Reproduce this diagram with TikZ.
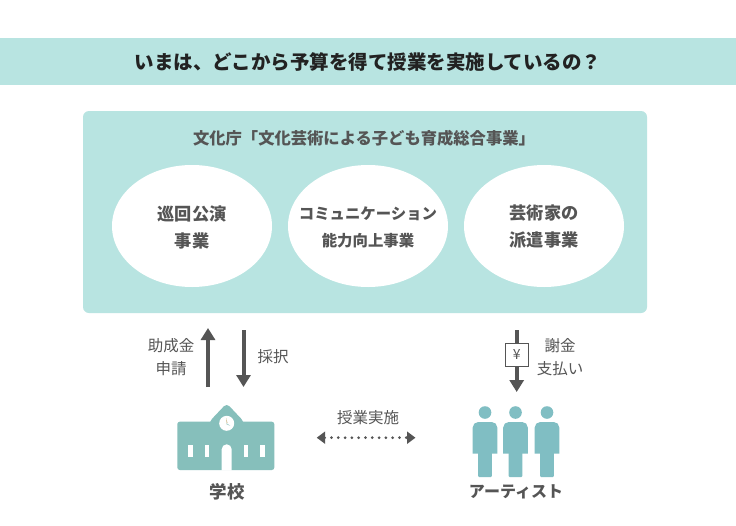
\documentclass[tikz,border=0pt]{standalone}
\usepackage{fontspec}
\setmainfont{Noto Sans CJK JP}
\usetikzlibrary{arrows.meta,shapes.geometric}
\definecolor{band}{HTML}{B8E4E1}
\definecolor{txt}{HTML}{555555}
\definecolor{darktxt}{HTML}{222222}
\definecolor{school}{HTML}{86BFBB}
\definecolor{people}{HTML}{80BEC3}
\definecolor{arr}{HTML}{555555}
\tikzset{
  titletext/.style={font=\fontsize{19.5}{22}\selectfont\bfseries, text=darktxt},
  boxtitle/.style={font=\fontsize{16.3}{19}\selectfont\bfseries, text=txt},
  elltext/.style={font=\fontsize{17.2}{27}\selectfont\bfseries, text=txt, align=center},
  elltextsmall/.style={font=\fontsize{15.4}{27}\selectfont\bfseries, text=txt, align=center},
  lbl/.style={font=\fontsize{15.5}{23}\selectfont, text=txt, align=center},
  bigl/.style={font=\fontsize{17.5}{20}\selectfont\bfseries, text=txt},
  prog/.style={ellipse, fill=white, minimum width=160pt, minimum height=122pt, inner sep=0pt},
  flow/.style={draw=arr, line width=4pt, -{Triangle[width=14pt,length=12pt]}},
  dots/.style={draw=arr, line width=3pt, line cap=round, dash pattern=on 0pt off 6.8pt,
     {Triangle[width=12pt,length=8.5pt]}-{Triangle[width=12pt,length=8.5pt]}},
}
\begin{document}
\begin{tikzpicture}[x=1pt,y=-1pt]
\useasboundingbox (0,0) rectangle (736,525);
\fill[white] (0,0) rectangle (736,525);
% top band
\fill[band] (0,38) rectangle (736,85);
\node[titletext] (title) at (368,62) {いまは、どこから予算を得て授業を実施しているの？};
% main box
\fill[band, rounded corners=6pt] (83,111) rectangle (647,313);
\node[boxtitle] (boxt) at (364,138) {文化庁「文化芸術による子ども育成総合事業」};
\node[prog] (e1) at (192,226) {};
\node[prog] (e2) at (368,226) {};
\node[prog] (e3) at (544,226) {};
\node[elltext] (t1) at (192,227) {巡回公演\\事業};
\node[elltextsmall] (t2) at (368,227) {コミュニケーション\\能力向上事業};
\node[elltext] (t3) at (544,227) {芸術家の\\派遣事業};
% arrows school
\coordinate (ua) at (208,387);
\coordinate (ub) at (208,328);
\coordinate (da) at (243.5,330);
\coordinate (db) at (243.5,387);
\draw[flow] (ua) -- (ub);
\draw[flow] (da) -- (db);
\node[lbl] (apply) at (171,357) {助成金\\申請};
\node[lbl] (adopt) at (273,357) {採択};
% arrow artist
\coordinate (ya) at (516.7,330);
\coordinate (yb) at (516.7,392);
\draw[flow] (ya) -- (yb);
\node[draw=arr, line width=0.8pt, fill=white, minimum width=23pt, minimum height=23pt, inner sep=0pt,
      font=\fontsize{14}{15}\selectfont, text=txt] (yen) at (516.7,355) {¥};
\node[lbl] (pay) at (560,357) {謝金\\支払い};
% dotted arrow
\coordinate (la) at (316.7,437.7);
\coordinate (lb) at (415.5,437.7);
\draw[dots] (la) -- (lb);
\node[lbl] (class) at (368,418) {授業実施};
% school icon
\fill[school, rounded corners=2.5pt] (177.3,421.7) rectangle (274.3,470);
\fill[school, rounded corners=4pt] (209.3,440) -- (209.3,421.7) -- (226.7,403.3) -- (244,421.7) -- (244,440) -- cycle;
\fill[white] (226.7,423.3) circle (7.5);
\fill[school!55!orange] (226.7,423.3) -- (226.2,418.3) -- (227.4,422.8) -- cycle;
\fill[school] (226.7,423.3) -- (230.2,425.8) -- (226.4,424.1) -- cycle;
\foreach \wx in {188.3,205,244,260.3}{
  \fill[white] (\wx,445) rectangle ++(4.2,11.7);
}
\fill[white] (221.7,470.5) -- (221.7,449.3) arc[start angle=180, end angle=360, radius=5] -- (231.7,470.5) -- cycle;
\node[bigl] (schoollbl) at (227,492) {学校};
% people icon
\foreach \cx in {485,515.5,547}{
  \fill[people] (\cx,412.5) circle (6.3);
  \fill[people] (\cx-12.3,453.5) [rounded corners=5.5pt]-- (\cx-12.3,422) -- (\cx+12.3,422) [sharp corners]-- (\cx+12.3,453.5) -- cycle;
  \fill[people, rounded corners=1pt] (\cx-6.8,450) -- (\cx-6.8,477) -- (\cx+6.8,477) -- (\cx+6.8,450) -- cycle;
}
\node[bigl, font=\fontsize{16}{20}\selectfont\bfseries] (artistlbl) at (516,492) {アーティスト};
\end{tikzpicture}
\end{document}
